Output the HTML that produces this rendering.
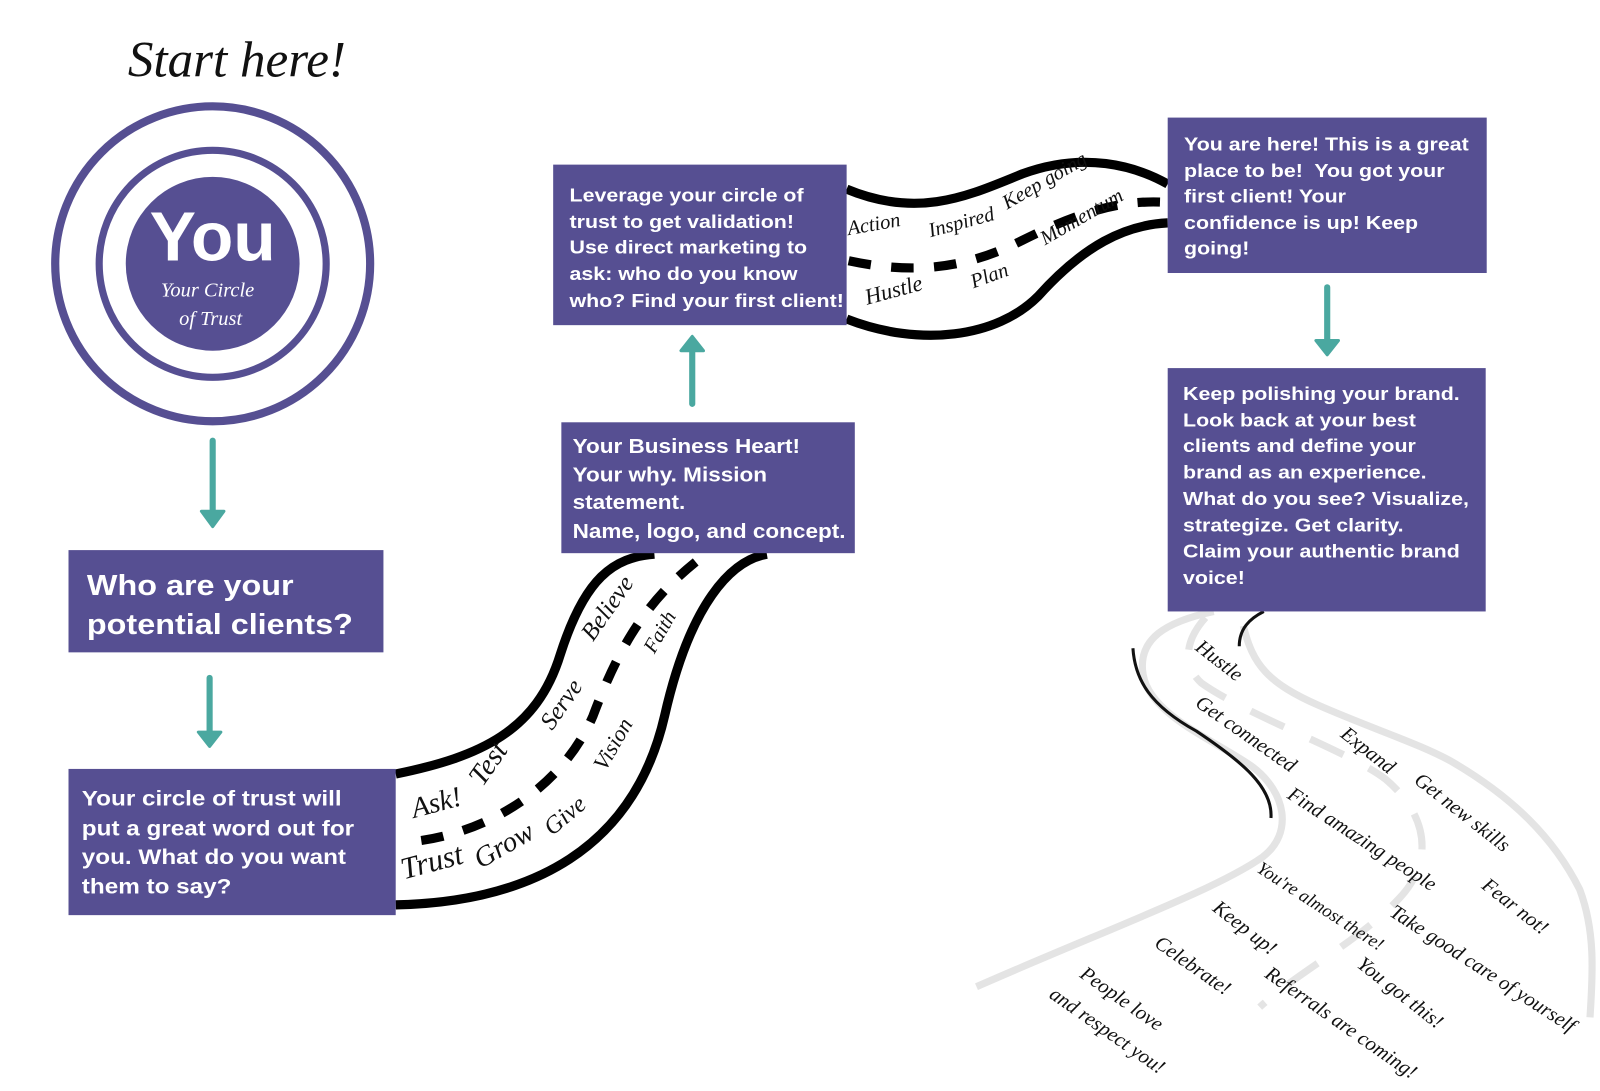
<!DOCTYPE html>
<html><head><meta charset="utf-8"><style>
body{margin:0;width:1600px;height:1067px;background:#fff;position:relative;overflow:hidden;font-family:"Liberation Sans",sans-serif}
#wrap{position:absolute;left:0;top:0;width:1600px;height:1067px;transform:scale(1.0225);transform-origin:0 0}
.box{position:absolute;background:#564f92;color:#fff;font-weight:bold;box-sizing:border-box;white-space:nowrap}
.box .t{transform:scaleX(1.13);transform-origin:0 0}
svg{position:absolute;left:0;top:0}
</style></head><body>
<div id="wrap">
<svg width="1600" height="1067" viewBox="0 0 1600 1067">
<g fill="none">
<path d="M1187,598 C1140,608 1112,625 1118,660 C1125,700 1190,725 1225,750 C1258,775 1265,815 1235,838 C1190,870 1080,910 955,965" stroke="#e4e4e4" stroke-width="7"/>
<path d="M1216,612 C1225,650 1240,668 1290,690 C1340,712 1390,728 1420,745 C1480,780 1520,820 1545,870 C1560,910 1558,950 1555,995" stroke="#e4e4e4" stroke-width="7"/>
<path d="M1179,604 C1160,625 1155,650 1175,668 C1220,700 1320,735 1355,762 C1400,800 1400,845 1369,878 C1330,920 1270,950 1232,985" stroke="#e4e4e4" stroke-width="7" stroke-dasharray="36,28"/>
<path d="M1108,634 C1110,665 1125,690 1170,715 C1215,745 1245,770 1243,800" stroke="#111" stroke-width="3"/>
<path d="M1236,598 C1222,605 1212,615 1212,632" stroke="#111" stroke-width="3"/>
</g>
<g font-family="Liberation Serif,serif" font-style="italic">
<text x="125" y="75" font-size="50" fill="#111">Start here!</text>
</g>
<circle cx="208" cy="258" r="154" fill="none" stroke="#564f92" stroke-width="8"/>
<circle cx="208" cy="258" r="111" fill="none" stroke="#564f92" stroke-width="7"/>
<circle cx="208" cy="258" r="85" fill="#564f92"/>
<text x="208" y="255" text-anchor="middle" font-size="68" font-weight="bold" fill="#fff" font-family="Liberation Sans,sans-serif">You</text>
<text x="203" y="290" text-anchor="middle" font-size="20" fill="#fff" font-family="Liberation Serif,serif" font-style="italic">Your Circle</text>
<text x="206" y="318" text-anchor="middle" font-size="20" fill="#fff" font-family="Liberation Serif,serif" font-style="italic">of Trust</text>
<g stroke="#4aa8a0" stroke-width="6" fill="none" stroke-linecap="round">
<path d="M208,431 V500"/>
<path d="M205,663 V716"/>
<path d="M677,395 V343"/>
<path d="M1298,281 V333"/>
</g>
<g fill="#4aa8a0" stroke="#4aa8a0" stroke-width="3" stroke-linejoin="round">
<polygon points="197,500 219,500 208,515"/>
<polygon points="194,716 216,716 205,730"/>
<polygon points="666,343 688,343 677,329"/>
<polygon points="1287,333 1309,333 1298,347"/>
</g>
<g fill="none" stroke="#000">
<path d="M387,757 C470,740 525,715 548,640 C572,565 600,545 640,542" stroke-width="9"/>
<path d="M387,885 C520,882 620,830 650,700 C675,590 715,548 750,542" stroke-width="9"/>
<path d="M412,822 C480,812 550,770 580,700 C610,620 640,580 690,542" stroke-width="9" stroke-dasharray="22,20"/>
<path d="M828,185 C900,215 950,190 1000,170 C1060,148 1110,162 1142,180" stroke-width="9"/>
<path d="M828,312 C900,340 975,330 1015,290 C1060,240 1100,220 1142,218" stroke-width="9"/>
<path d="M830,255 C900,270 950,260 1000,235 C1060,205 1100,195 1142,198" stroke-width="9" stroke-dasharray="22,20"/>
</g>
<g font-family="Liberation Serif,serif" font-style="italic" fill="#111">
<text x="405" y="800" font-size="28" transform="rotate(-15 405 800)">Ask!</text>
<text x="395" y="860" font-size="30" transform="rotate(-15 395 860)">Trust</text>
<text x="472" y="770" font-size="28" transform="rotate(-55 472 770)">Test</text>
<text x="470" y="850" font-size="28" transform="rotate(-30 470 850)">Grow</text>
<text x="540" y="818" font-size="24" transform="rotate(-40 540 818)">Give</text>
<text x="540" y="715" font-size="24" transform="rotate(-55 540 715)">Serve</text>
<text x="592" y="755" font-size="22" transform="rotate(-60 592 755)">Vision</text>
<text x="580" y="628" font-size="24" transform="rotate(-55 580 628)">Believe</text>
<text x="640" y="640" font-size="20" transform="rotate(-60 640 640)">Faith</text>
<text x="830" y="230" font-size="20" transform="rotate(-10 830 230)">Action</text>
<text x="910" y="232" font-size="20" transform="rotate(-15 910 232)">Inspired</text>
<text x="985" y="205" font-size="20" transform="rotate(-30 985 205)">Keep going</text>
<text x="1022" y="240" font-size="20" transform="rotate(-30 1022 240)">Momentum</text>
<text x="848" y="298" font-size="22" transform="rotate(-15 848 298)">Hustle</text>
<text x="952" y="282" font-size="20" transform="rotate(-20 952 282)">Plan</text>
<text x="1168" y="635" font-size="20" transform="rotate(38 1168 635)">Hustle</text>
<text x="1168" y="690" font-size="20" transform="rotate(35 1168 690)">Get connected</text>
<text x="1310" y="720" font-size="20" transform="rotate(38 1310 720)">Expand</text>
<text x="1382" y="765" font-size="20" transform="rotate(38 1382 765)">Get new skills</text>
<text x="1258" y="780" font-size="20" transform="rotate(33 1258 780)">Find amazing people</text>
<text x="1448" y="868" font-size="20" transform="rotate(38 1448 868)">Fear not!</text>
<text x="1228" y="852" font-size="18" transform="rotate(33 1228 852)">You're almost there!</text>
<text x="1358" y="895" font-size="20" transform="rotate(33 1358 895)">Take good care of yourself</text>
<text x="1185" y="890" font-size="20" transform="rotate(38 1185 890)">Keep up!</text>
<text x="1326" y="945" font-size="20" transform="rotate(38 1326 945)">You got this!</text>
<text x="1128" y="925" font-size="20" transform="rotate(35 1128 925)">Celebrate!</text>
<text x="1236" y="955" font-size="20" transform="rotate(35 1236 955)">Referrals are coming!</text>
<text x="1055" y="955" font-size="20" transform="rotate(35 1055 955)">People love</text>
<text x="1025" y="975" font-size="20" transform="rotate(35 1025 975)">and respect you!</text>
</g>
</svg>
<div class="box" style="left:67px;top:538px;width:308px;height:100px;padding:16px 0 0 18px;font-size:28px;line-height:38px"><div class="t">Who are your<br>potential clients?</div></div>
<div class="box" style="left:67px;top:752px;width:320px;height:143px;padding:16px 0 0 13px;font-size:21px;line-height:28.5px"><div class="t">Your circle of trust will<br>put a great word out for<br>you. What do you want<br>them to say?</div></div>
<div class="box" style="left:549px;top:413px;width:287px;height:128px;padding:11px 0 0 11px;font-size:19.5px;line-height:27.5px"><div class="t">Your Business Heart!<br>Your why. Mission<br>statement.<br>Name, logo, and concept.</div></div>
<div class="box" style="left:541px;top:161px;width:287px;height:157px;padding:17px 0 0 16px;font-size:18.5px;line-height:25.7px"><div class="t">Leverage your circle of<br>trust to get validation!<br>Use direct marketing to<br>ask: who do you know<br>who? Find your first client!</div></div>
<div class="box" style="left:1142px;top:115px;width:312px;height:152px;padding:13px 0 0 16px;font-size:18.5px;line-height:25.5px"><div class="t">You are here! This is a great<br>place to be!&nbsp; You got your<br>first client! Your<br>confidence is up! Keep<br>going!</div></div>
<div class="box" style="left:1142px;top:360px;width:311px;height:238px;padding:12px 0 0 15px;font-size:18.5px;line-height:25.7px"><div class="t">Keep polishing your brand.<br>Look back at your best<br>clients and define your<br>brand as an experience.<br>What do you see? Visualize,<br>strategize. Get clarity.<br>Claim your authentic brand<br>voice!</div></div>
</div></body></html>
